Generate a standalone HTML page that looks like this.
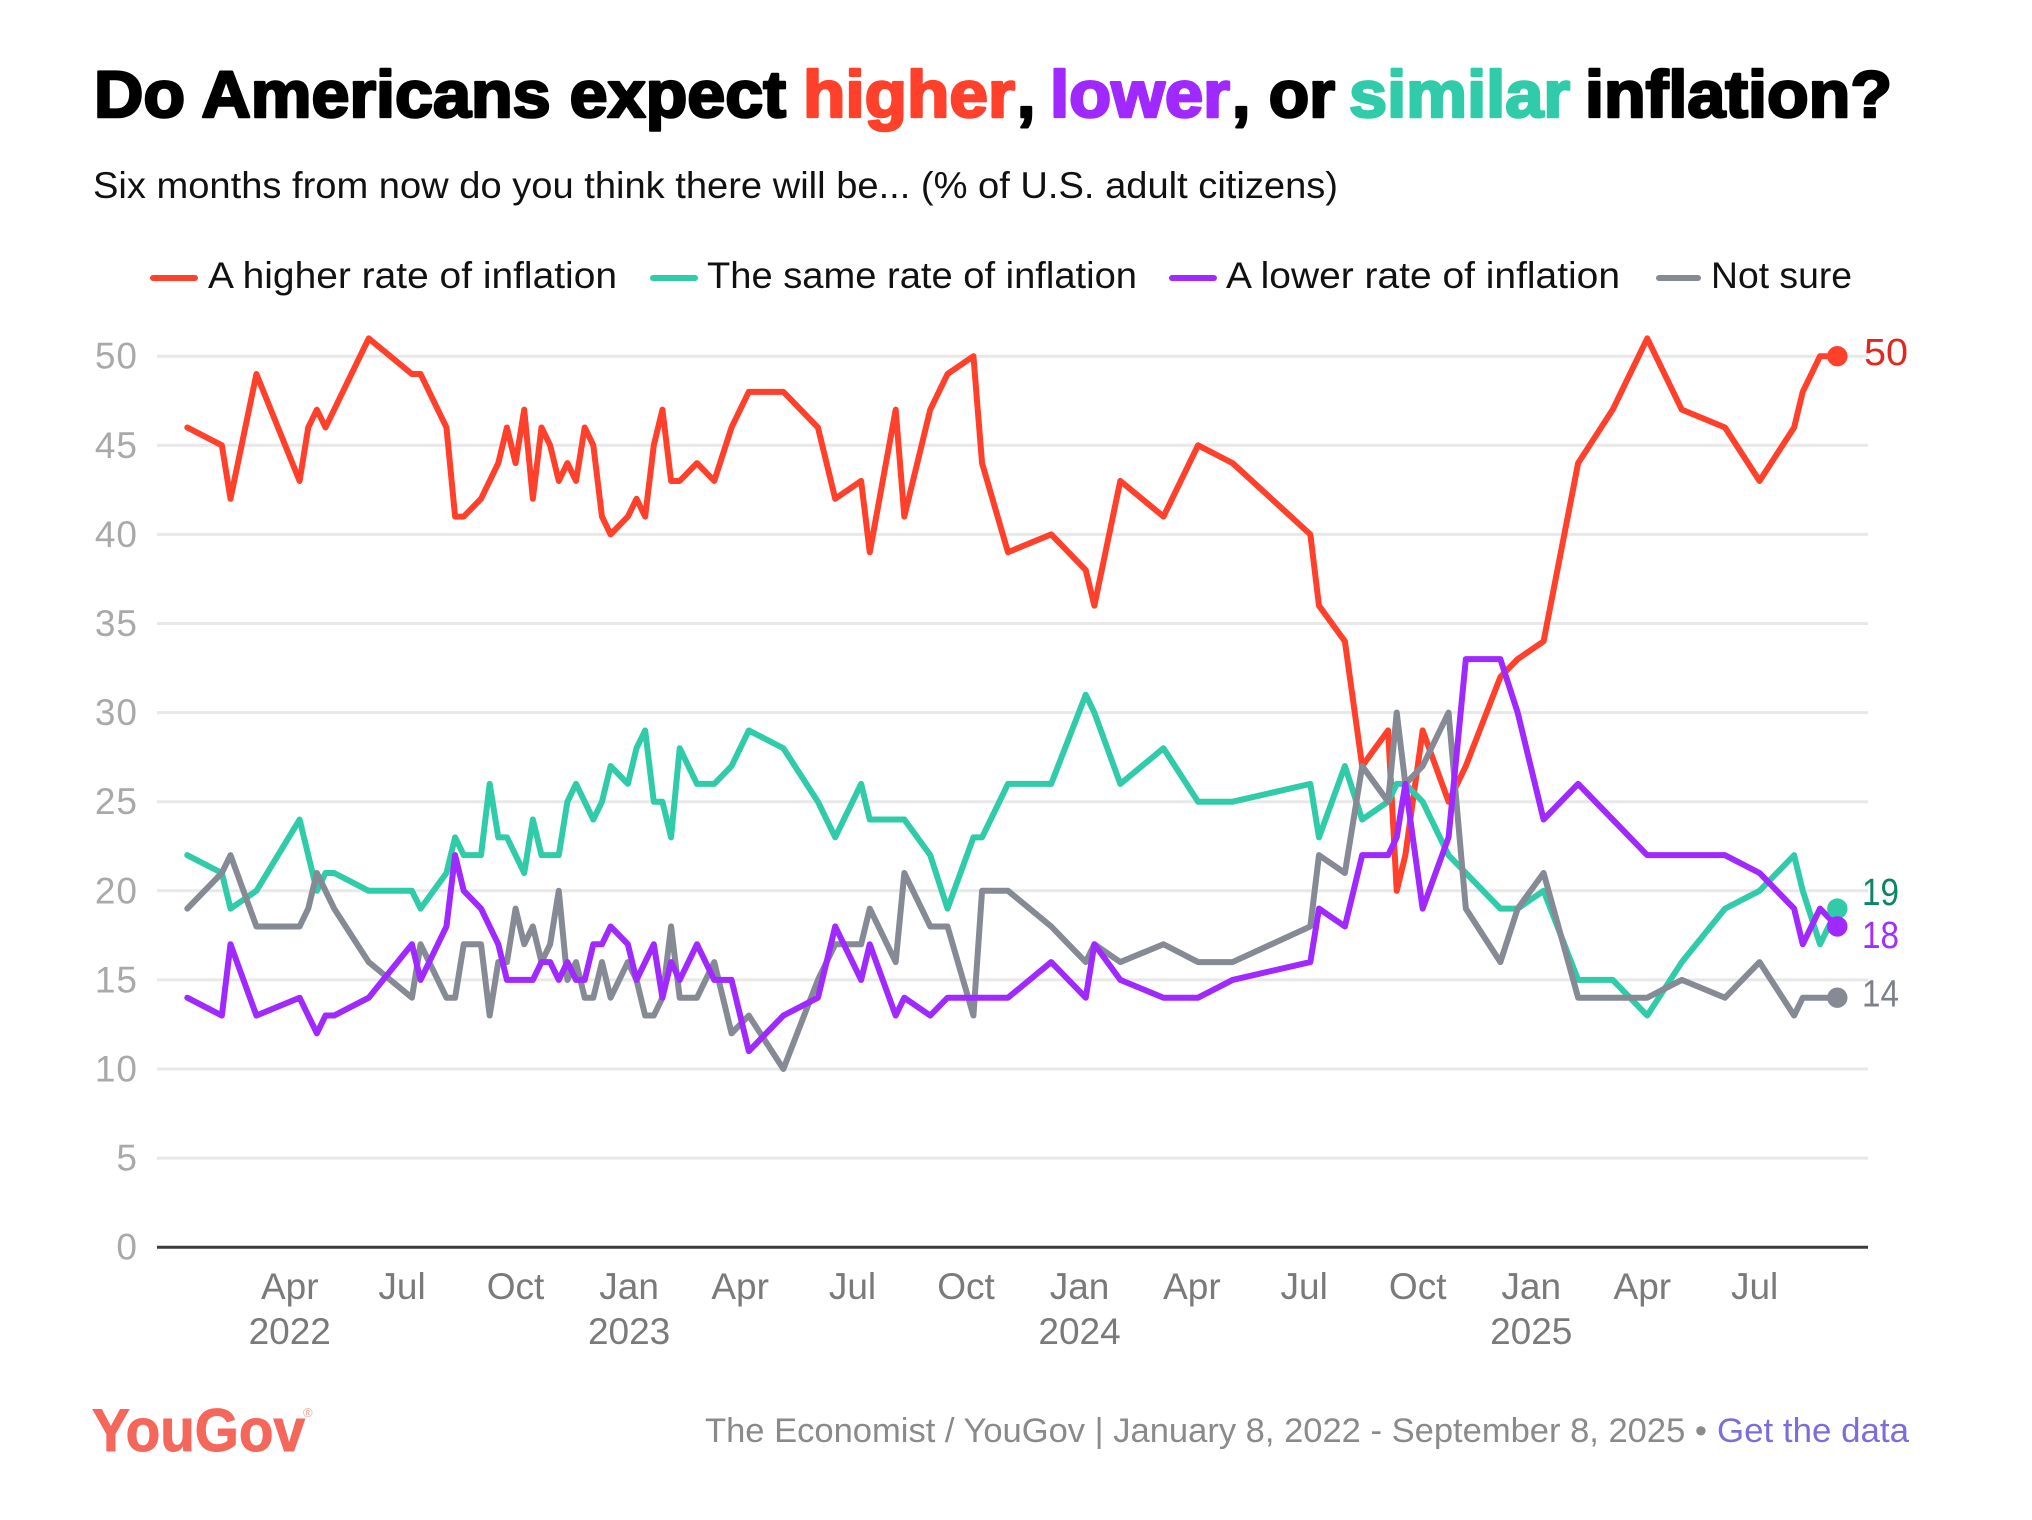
<!DOCTYPE html>
<html lang="en">
<head>
<meta charset="utf-8">
<title>Do Americans expect higher, lower, or similar inflation?</title>
<style>
html,body{margin:0;padding:0;background:#fff;width:2032px;height:1520px;overflow:hidden}
svg{display:block;font-family:"Liberation Sans",sans-serif}
.t{font-weight:700;font-size:66px;stroke-width:2.6px;stroke-linejoin:round}
.leg{font-size:37px;fill:#111}
.yt{font-size:37px;fill:#a9a9a9;text-anchor:end;letter-spacing:1px}
.xt{font-size:37px;fill:#7a7a7a;text-anchor:middle}
.end{font-size:38px}
.foot{font-size:34px;fill:#8a8a8a}
</style>
</head>
<body>
<svg id="chart" xmlns="http://www.w3.org/2000/svg" width="2032" height="1520" viewBox="0 0 2032 1520">
  <g>
    <text class="t" x="94" y="117" fill="#000" stroke="#000" textLength="692" lengthAdjust="spacingAndGlyphs">Do Americans expect</text>
    <text class="t" x="803" y="117" fill="#ff412c" stroke="#ff412c" textLength="212" lengthAdjust="spacingAndGlyphs">higher</text>
    <text class="t" x="1017" y="117" fill="#000" stroke="#000">,</text>
    <text class="t" x="1050" y="117" fill="#9f29ff" stroke="#9f29ff" textLength="180" lengthAdjust="spacingAndGlyphs">lower</text>
    <text class="t" x="1232" y="117" fill="#000" stroke="#000" textLength="103" lengthAdjust="spacingAndGlyphs">, or</text>
    <text class="t" x="1349" y="117" fill="#30cba8" stroke="#30cba8" textLength="221" lengthAdjust="spacingAndGlyphs">similar</text>
    <text class="t" x="1585" y="117" fill="#000" stroke="#000" textLength="307" lengthAdjust="spacingAndGlyphs">inflation?</text>
  </g>
  <text x="93" y="198" font-size="37" fill="#111" textLength="1245" lengthAdjust="spacingAndGlyphs">Six months from now do you think there will be... (% of U.S. adult citizens)</text>

  <g>
    <g>
      <line x1="153" y1="278" x2="195" y2="278" stroke="#ff412c" stroke-width="6" stroke-linecap="round"/>
      <text class="leg" x="208" y="288" textLength="409" lengthAdjust="spacingAndGlyphs">A higher rate of inflation</text>
    </g>
    <g>
      <line x1="653" y1="278" x2="695" y2="278" stroke="#30cba8" stroke-width="6" stroke-linecap="round"/>
      <text class="leg" x="707" y="288" textLength="430" lengthAdjust="spacingAndGlyphs">The same rate of inflation</text>
    </g>
    <g>
      <line x1="1172" y1="278" x2="1214" y2="278" stroke="#9f29ff" stroke-width="6" stroke-linecap="round"/>
      <text class="leg" x="1226" y="288" textLength="394" lengthAdjust="spacingAndGlyphs">A lower rate of inflation</text>
    </g>
    <g>
      <line x1="1659" y1="278" x2="1698" y2="278" stroke="#858a94" stroke-width="6" stroke-linecap="round"/>
      <text class="leg" x="1711" y="288" textLength="141" lengthAdjust="spacingAndGlyphs">Not sure</text>
    </g>
  </g>

  <g id="grid"></g>
  <g id="yticks"></g>
  <line x1="157" y1="1247.2" x2="1868" y2="1247.2" stroke="#3c3c40" stroke-width="3"/>
  <g id="xticks"></g>
  <g id="lines"></g>
  <g id="dots"></g>
  <g id="endlabels"></g>

  <g>
    <text x="92" y="1451" font-size="60" font-weight="700" fill="#f4675a" stroke="#f4675a" stroke-width="1" textLength="213" lengthAdjust="spacingAndGlyphs">YouGov</text>
    <text x="303" y="1417" font-size="13" fill="#f7a59c">®</text>
  </g>
  <text class="foot" x="705" y="1442" textLength="1002" lengthAdjust="spacingAndGlyphs">The Economist / YouGov | January 8, 2022 - September 8, 2025 •</text>
  <text class="foot" x="1717" y="1442" style="fill:#7a6fd8;cursor:pointer" textLength="192" lengthAdjust="spacingAndGlyphs">Get the data</text>
</svg>

<script>
// Chart data: poll timing (weeks since 8 Jan 2022) and % values
const weeksSinceFirst = [0,4,5,8,13,14,15,16,17,21,26,27,30,31,32,34,35,36,37,38,39,40,41,42,43,44,45,46,47,48,49,51,52,53,54,55,56,57,59,61,63,65,69,73,75,78,79,82,83,86,88,91,92,95,100,104,105,108,113,117,121,130,131,134,136,139,140,141,143,146,148,152,154,157,161,165,169,173,178,182,186,187,189,191];
const higherRate = [46,45,42,49,43,46,47,46,47,51,49,49,46,41,41,42,43,44,46,44,47,42,46,45,43,44,43,46,45,41,40,41,42,41,45,47,43,43,44,43,46,48,48,46,42,43,39,47,41,47,49,50,44,39,40,38,36,43,41,45,44,40,36,34,27,29,20,22,29,25,27,32,33,34,44,47,51,47,46,43,46,48,50,50];
const sameRate = [22,21,19,20,24,22,20,21,21,20,20,19,21,23,22,22,26,23,23,22,21,24,22,22,22,25,26,25,24,25,27,26,28,29,25,25,23,28,26,26,27,29,28,25,23,26,24,24,24,22,19,23,23,26,26,31,30,26,28,25,25,26,23,27,24,25,26,26,25,22,21,19,19,20,15,15,13,16,19,20,22,20,17,19];
const lowerRate = [14,13,17,13,14,13,12,13,13,14,17,15,18,22,20,19,18,17,15,15,15,15,16,16,15,16,15,15,17,17,18,17,15,16,17,14,16,15,17,15,15,11,13,14,18,15,17,13,14,13,14,14,14,14,16,14,17,15,14,14,15,16,19,18,22,22,23,26,19,23,33,33,30,24,26,24,22,22,22,21,19,17,19,18];
const notSure = [19,21,22,18,18,19,21,20,19,16,14,17,14,14,17,17,13,16,16,19,17,18,16,17,20,15,16,14,14,16,14,16,15,13,13,14,18,14,14,16,12,13,10,15,17,17,19,16,21,18,18,13,20,20,18,16,17,16,17,16,16,18,22,21,27,25,30,26,27,30,19,16,19,21,14,14,14,15,14,16,13,14,14,14];
const yTickValues = [0,5,10,15,20,25,30,35,40,45,50];
const xTickDates = ["2022-04-01","2022-07-01","2022-10-01","2023-01-01","2023-04-01","2023-07-01","2023-10-01","2024-01-01","2024-04-01","2024-07-01","2024-10-01","2025-01-01","2025-04-01","2025-07-01"];
const xTickMonths = ["Apr","Jul","Oct","Jan","Apr","Jul","Oct","Jan","Apr","Jul","Oct","Jan","Apr","Jul"];
const xTickYears = ["2022","","","2023","","","","2024","","","","2025","",""];

const NS = "http://www.w3.org/2000/svg";
const firstPollDate = Date.UTC(2022, 0, 8);
const xPlotLeft = 187.3, xPlotWidth = 1650, lastWeek = 191;
const yZero = 1247.2, pxPerPoint = 17.82;
function xScale(week){ return xPlotLeft + week * xPlotWidth / lastWeek; }
function yScale(v){ return yZero - v * pxPerPoint; }
function dateToWeek(s){ return (Date.parse(s + "T00:00:00Z") - firstPollDate) / (7 * 86400000); }
function make(tag, parentId, attrs){
  const el = document.createElementNS(NS, tag);
  for (const k in attrs) el.setAttribute(k, attrs[k]);
  document.getElementById(parentId).appendChild(el);
  return el;
}

yTickValues.forEach(function(v){
  if (v > 0) {
    const grid = make("line", "grid", {x1:157, x2:1868, y1:yScale(v), y2:yScale(v), stroke:"#e8e8e8", "stroke-width":3});
    
    
  }
  const lab = make("text", "yticks", {x:138, y:yScale(v) + 12.5, "class":"yt"});
  
  
  lab.textContent = v;
});

xTickDates.forEach(function(d, i){
  const px = xScale(dateToWeek(d));
  const m = make("text", "xticks", {x:px, y:1299, "class":"xt"});
  
  
  m.textContent = xTickMonths[i];
  if (xTickYears[i]) {
    const yr = make("text", "xticks", {x:px, y:1344, "class":"xt"});
    
    
    yr.textContent = xTickYears[i];
  }
});

function drawSeries(name, values, color, labelColor, labelShift, labelX, labelWidth){
  const pts = values.map(function(v, i){ return xScale(weeksSinceFirst[i]).toFixed(2) + "," + yScale(v).toFixed(2); }).join(" ");
  const line = make("polyline", "lines", {points:pts, fill:"none", stroke:color, "stroke-width":6, "stroke-linejoin":"round", "stroke-linecap":"round"});
  
  
  const last = values.length - 1;
  const dot = make("circle", "dots", {cx:xScale(weeksSinceFirst[last]), cy:yScale(values[last]), r:10.2, fill:color});
  
  
  const lab = make("text", "endlabels", {x:labelX, y:yScale(values[last]) + labelShift, "class":"end", fill:labelColor, textLength:labelWidth, lengthAdjust:"spacingAndGlyphs"});
  
  
  lab.textContent = values[last];
}
drawSeries("higher", higherRate, "#ff412c", "#e0281e", 9, 1864, 44);
drawSeries("same", sameRate, "#30cba8", "#0a8566", -3.6, 1862, 37);
drawSeries("not-sure", notSure, "#858a94", "#7c8088", 9, 1862, 37);
drawSeries("lower", lowerRate, "#9f29ff", "#a030ff", 21.6, 1862, 37);
</script>
</body>
</html>
